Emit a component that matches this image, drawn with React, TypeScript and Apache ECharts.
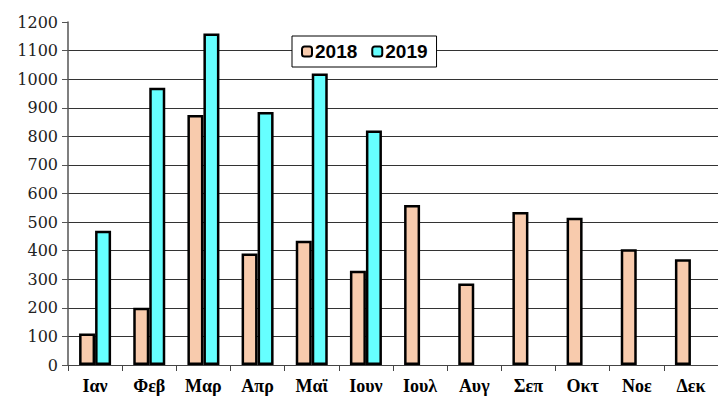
import React, { useEffect, useRef } from "react";
import * as echarts from "echarts";

const months = ["Ιαν", "Φεβ", "Μαρ", "Απρ", "Μαϊ", "Ιουν", "Ιουλ", "Αυγ", "Σεπ", "Οκτ", "Νοε", "Δεκ"];
const values2018 = [110, 200, 875, 390, 435, 330, 560, 285, 535, 515, 405, 370];
const values2019 = [470, 970, 1160, 885, 1020, 820, null, null, null, null, null, null];
const seriesNames = ["2018", "2019"];

export default function App() {
  const ref = useRef<HTMLDivElement>(null);
  useEffect(() => {
    if (!ref.current) return;
    const chart = echarts.init(ref.current, undefined, { renderer: "svg" });
    chart.setOption({
      animation: false,
      backgroundColor: "#fff",
      grid: { left: 68, top: 22, bottom: 35, right: -6, containLabel: false },
      legend: {
        left: 292,
        top: 36,
        padding: [6, 9, 6, 9],
        borderColor: "#000",
        borderWidth: 1,
        backgroundColor: "#fff",
        itemWidth: 10,
        itemHeight: 10,
        itemGap: 14,
        textStyle: { fontFamily: "Liberation Sans", fontWeight: "bold", fontSize: 19, color: "#000", padding: [0, 0, 0, -2] },
        data: seriesNames,
      },
      xAxis: {
        type: "category",
        data: months,
        axisLine: { lineStyle: { color: "#444", width: 1 } },
        axisTick: { show: true, length: 6, interval: 0, lineStyle: { color: "#444" } },
        axisLabel: {
          interval: 0,
          margin: 12,
          fontFamily: "Times New Roman",
          fontWeight: "bold",
          fontSize: 18,
          color: "#000",
        },
      },
      yAxis: {
        type: "value",
        min: 0,
        max: 1200,
        interval: 100,
        axisLine: { show: true, lineStyle: { color: "#555", width: 1.5 } },
        axisTick: { show: true, length: 6, lineStyle: { color: "#555" } },
        axisLabel: {
          margin: 10,
          fontFamily: "DejaVu Serif",
          fontSize: 16,
          color: "#222",
          formatter: (v: number) => String(v),
        },
        splitLine: { show: true, showMaxLine: false, lineStyle: { color: "#333", width: 1 } },
      },
      series: [
        {
          name: seriesNames[0],
          type: "bar",
          data: values2018,
          barWidth: 16,
          barGap: "0%",
          itemStyle: { color: "#F8CBAD", borderColor: "#000", borderWidth: 2.5 },
        },
        {
          name: seriesNames[1],
          type: "bar",
          data: values2019,
          barWidth: 16,
          barGap: "0%",
          itemStyle: { color: "#66FFFF", borderColor: "#000", borderWidth: 2.5 },
        },
      ],
    });
    return () => chart.dispose();
  }, []);
  return <div ref={ref} style={{ position: "fixed", left: 0, top: 0, width: 718, height: 400 }} />;
}
